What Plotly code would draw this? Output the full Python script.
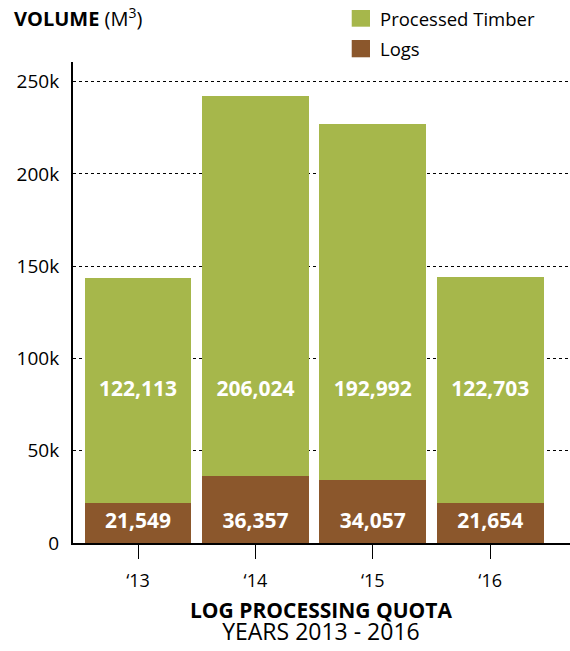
import plotly.graph_objects as go

# data
years = ["'13", "'14", "'15", "'16"]
year_labels = ["\u201813", "\u201814", "\u201815", "\u201816"]
logs = [21549, 36357, 34057, 21654]
processed = [122113, 206024, 192992, 122703]
y_ticks = [0, 50000, 100000, 150000, 200000, 250000]
y_tick_text = ["0", "50k", "100k", "150k", "200k", "250k"]

GREEN = "#A6B74B"
BROWN = "#8B572C"
FONT = "Open Sans"
LABEL_FONT = dict(color="white", size=21, family=FONT, weight="bold")

fig = go.Figure()
fig.add_trace(go.Bar(x=years, y=logs, name="Logs", marker_color=BROWN,
                     marker_line_width=0, hoverinfo="y"))
fig.add_trace(go.Bar(x=years, y=processed, name="Processed Timber",
                     marker_color=GREEN, marker_line_width=0, hoverinfo="y"))

# value labels sit at a fixed height in each segment
fig.add_trace(go.Scatter(x=years, y=[10800] * len(years), mode="text",
                         text=[f"{v:,}" for v in logs], textfont=LABEL_FONT,
                         hoverinfo="skip"))
fig.add_trace(go.Scatter(x=years, y=[82400] * len(years), mode="text",
                         text=[f"{v:,}" for v in processed], textfont=LABEL_FONT,
                         hoverinfo="skip"))

fig.update_layout(
    width=570, height=651,
    margin=dict(l=73, r=0, t=62, b=108),
    barmode="stack", bargap=0.09,
    plot_bgcolor="white", paper_bgcolor="white",
    showlegend=False,
    font=dict(family=FONT, color="black", size=18),
)
fig.update_xaxes(
    range=[-0.554, 3.68], tickvals=years, ticktext=year_labels,
    showline=True, linecolor="black", linewidth=2,
    ticks="outside", ticklen=14, tickwidth=1, tickcolor="black",
    ticklabelstandoff=6, showgrid=False, tickfont=dict(size=18),
)
fig.update_yaxes(
    range=[0, 260700], tickvals=y_ticks, ticktext=y_tick_text,
    showline=True, linecolor="black", linewidth=2,
    showgrid=True, gridcolor="black", griddash="dot", gridwidth=1.3,
    zeroline=False, ticks="", ticklabelstandoff=8, tickfont=dict(size=19),
)

# title top left
fig.add_annotation(
    x=-0.1227, y=1.092, xref="paper", yref="paper",
    xanchor="left", yanchor="middle", showarrow=False,
    text="<b>VOLUME</b> (M<sup>3</sup>)", font=dict(size=20),
)

# legend
legend_items = [("Processed Timber", GREEN, 1.0734, 1.1081, 1.0908),
                ("Logs", BROWN, 1.0098, 1.0457, 1.0277)]
for label, color, y0, y1, ym in legend_items:
    fig.add_shape(
        type="rect", xref="paper", yref="paper",
        x0=0.5608, x1=0.5976, y0=y0, y1=y1,
        fillcolor=color, line_width=0,
    )
    fig.add_annotation(
        x=0.613, y=ym, xref="paper", yref="paper",
        xanchor="left", yanchor="middle", showarrow=False,
        text=label, font=dict(size=18.5),
    )

# bottom title, two lines in one block
fig.add_annotation(
    x=0.499, y=-0.1642, xref="paper", yref="paper",
    xanchor="center", yanchor="middle", showarrow=False,
    text=("<span style='font-size:21px'><b>LOG PROCESSING QUOTA</b></span><br>"
          "<span style='font-size:23px'>YEARS 2013 - 2016</span>"),
    font=dict(size=17),
)

fig.write_html("out.html", config={"displayModeBar": False},
               post_script="document.body.style.margin='0';")
